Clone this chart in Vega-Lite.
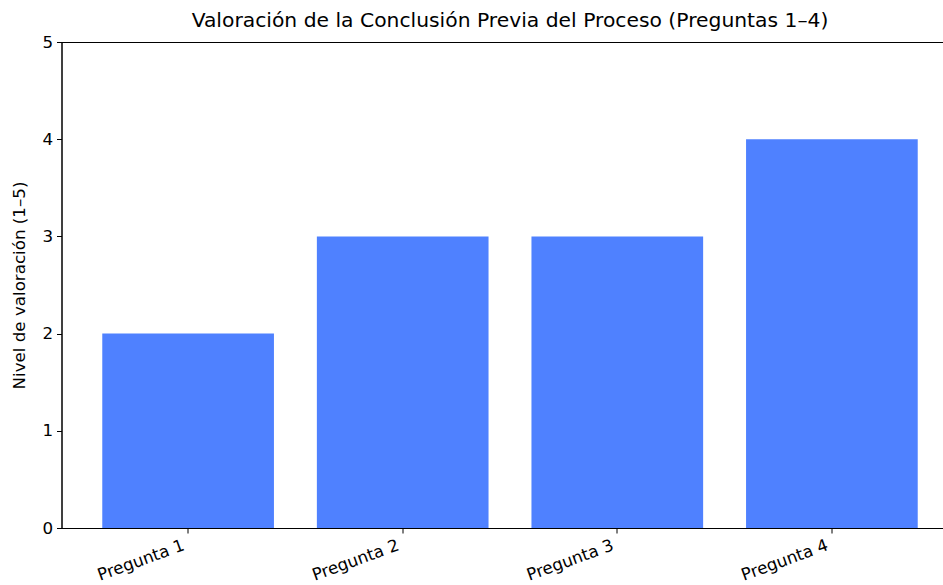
{
  "$schema": "https://vega.github.io/schema/vega-lite/v6.json",
  "autosize": {"type": "none"},
  "padding": {"left": 61.5, "top": 42, "right": 0, "bottom": 57},
  "width": 897,
  "height": 486,
  "background": "white",
  "title": {
    "text": "Valoración de la Conclusión Previa del Proceso (Preguntas 1–4)",
    "font": "DejaVu Sans",
    "fontSize": 20.3,
    "fontWeight": "normal",
    "color": "#000000",
    "anchor": "middle",
    "offset": 3
  },
  "data": {
    "values": [
      {"pregunta": "Pregunta 1", "valor": 2},
      {"pregunta": "Pregunta 2", "valor": 3},
      {"pregunta": "Pregunta 3", "valor": 3},
      {"pregunta": "Pregunta 4", "valor": 4}
    ]
  },
  "mark": {"type": "bar", "color": "#4f81ff"},
  "encoding": {
    "x": {
      "field": "pregunta",
      "type": "nominal",
      "sort": null,
      "scale": {"paddingInner": 0.2, "paddingOuter": 0.19},
      "axis": {
        "title": null,
        "labelAngle": -20,
        "labelAlign": "right",
        "labelBaseline": "top",
        "labelPadding": 4,
        "labelOffset": -7,
        "labelFontSize": 16.7,
        "labelFont": "DejaVu Sans",
        "labelColor": "#000000",
        "tickColor": "#000000",
        "tickSize": 5,
        "domainColor": "#000000",
        "grid": false
      }
    },
    "y": {
      "field": "valor",
      "type": "quantitative",
      "scale": {"domain": [0, 5], "nice": false},
      "axis": {
        "title": "Nivel de valoración (1–5)",
        "titleFont": "DejaVu Sans",
        "titleFontSize": 16.7,
        "titleFontWeight": "normal",
        "titleColor": "#000000",
        "titlePadding": 13,
        "values": [0, 1, 2, 3, 4, 5],
        "format": "d",
        "labelFontSize": 16.7,
        "labelFont": "DejaVu Sans",
        "labelColor": "#000000",
        "labelPadding": 4,
        "tickColor": "#000000",
        "tickSize": 5,
        "domainColor": "#000000",
        "grid": false
      }
    }
  },
  "config": {
    "view": {"stroke": "#000000", "strokeWidth": 1}
  }
}
